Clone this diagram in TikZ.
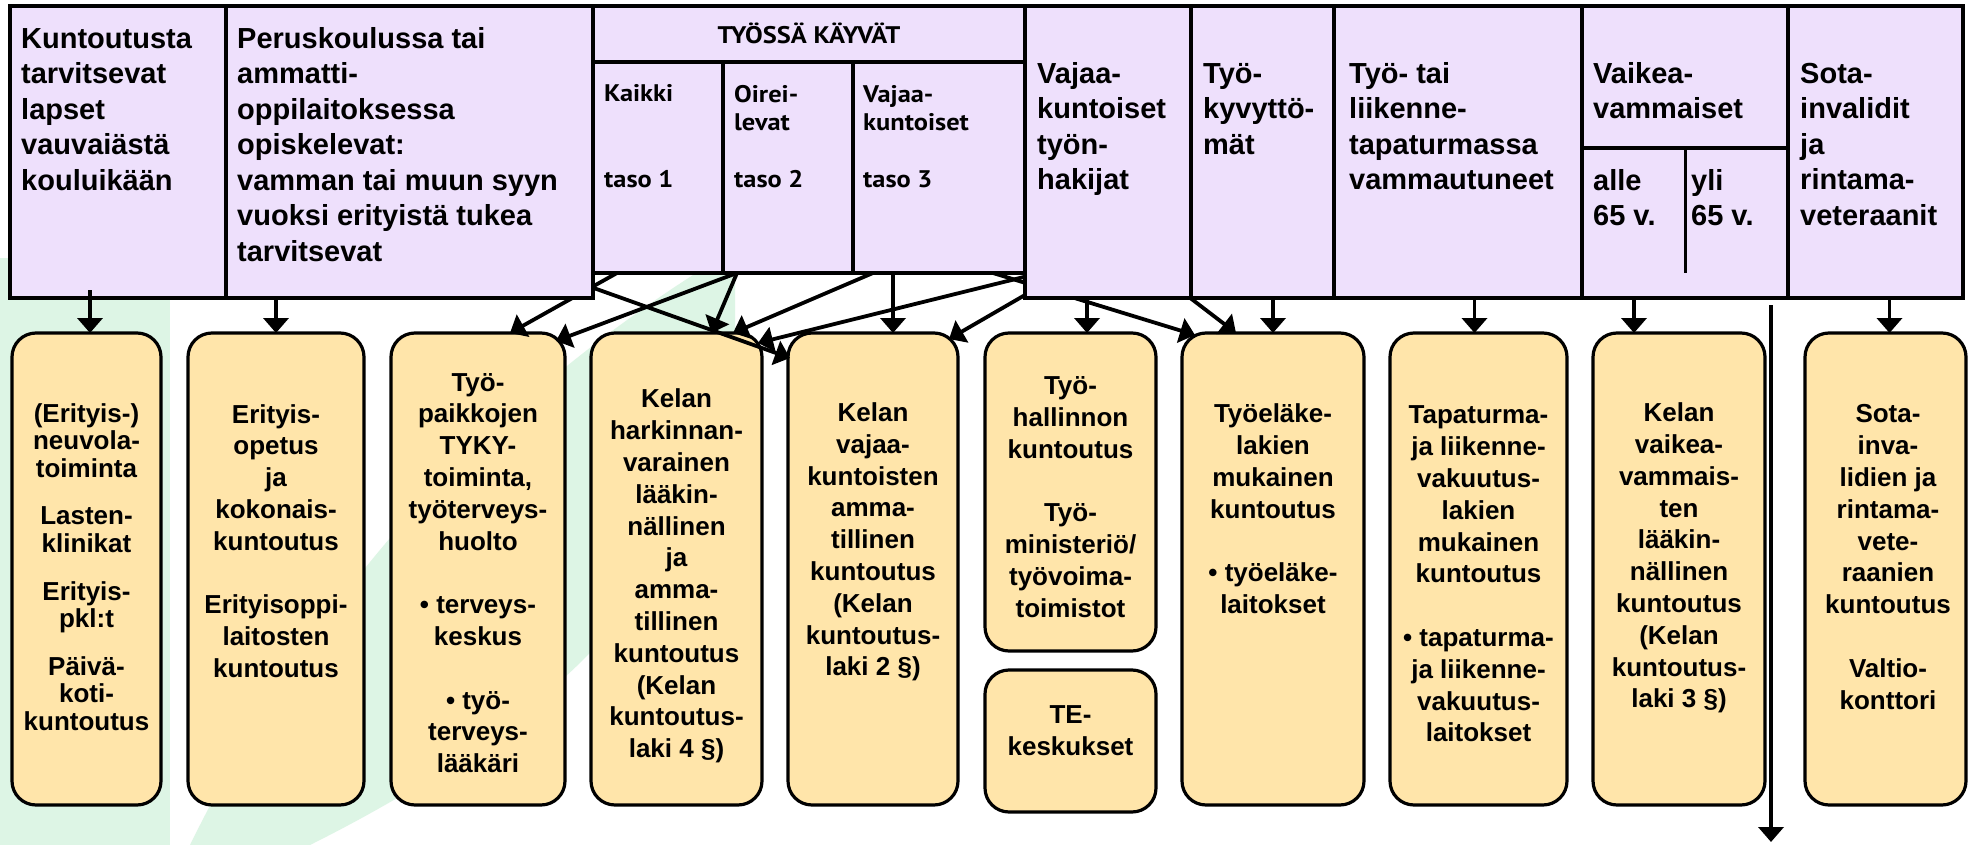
\documentclass[tikz,border=0pt]{standalone}
\usepackage{fontspec}
\setmainfont{Liberation Sans}
\newfontfamily\gillfont{PT Sans}[FakeStretch=1.1]
\usetikzlibrary{arrows.meta,calc}
\definecolor{lav}{RGB}{238,224,252}
\definecolor{org}{RGB}{255,229,170}
\definecolor{grn}{RGB}{221,245,229}
\pgfdeclarelayer{bg}\pgfdeclarelayer{mid}\pgfdeclarelayer{lines}
\pgfsetlayers{bg,mid,lines,main}
\begin{document}
\begin{tikzpicture}[x=1pt,y=-1pt,
  topbox/.style={draw, line width=3.5pt, fill=lav, inner sep=0pt, outer sep=0pt},
  cell/.style={inner sep=0pt, outer sep=0pt},
  botbox/.style={draw, line width=3.2pt, fill=org, rounded corners=24pt, inner sep=0pt, outer sep=0pt},
  toptext/.style={anchor=north west, align=left, inner sep=0pt, font=\bfseries\fontsize{29}{35.5}\selectfont},
  tkfont/.style={inner sep=0pt, font=\gillfont\bfseries\fontsize{24}{28}\selectfont},
  bottext/.style={align=center, inner sep=0pt, font=\bfseries\fontsize{26}{31.8}\selectfont},
  arr/.style={line width=3.8pt, -{Triangle[length=15pt,width=25pt]}}
]
\begin{pgfonlayer}{bg}
\fill[white] (0,0) rectangle (1971,845);
\fill[grn] (0,258) rectangle (170,845);
\fill[grn] (190,845) .. controls (330,560) and (520,380) .. (725,255) -- (735,255) -- (735,330) .. controls (730,560) and (560,720) .. (310,845) -- cycle;
\end{pgfonlayer}
\useasboundingbox (0,0) rectangle (1971,845);

% ---------- top row ----------
\node[topbox, minimum width=216pt, minimum height=292pt] (c1) at (118,152) {};
\node[topbox, minimum width=367pt, minimum height=292pt] (c2) at (409.5,152) {};
\node[topbox, minimum width=432pt, minimum height=56pt] (tkh) at (809,34) {};
\node[topbox, minimum width=130pt, minimum height=211pt] (tk1) at (658,167.5) {};
\node[topbox, minimum width=130pt, minimum height=211pt] (tk2) at (788,167.5) {};
\node[topbox, minimum width=172pt, minimum height=211pt] (tk3) at (939,167.5) {};
\node[topbox, minimum width=166pt, minimum height=292pt] (c4) at (1108,152) {};
\node[topbox, minimum width=143pt, minimum height=292pt] (c5) at (1262.5,152) {};
\node[topbox, minimum width=248pt, minimum height=292pt] (c6) at (1458,152) {};
\node[topbox, minimum width=206pt, minimum height=292pt] (c7) at (1685,152) {};
\node[topbox, minimum width=175pt, minimum height=292pt] (c8) at (1875.5,152) {};
\node[cell, minimum width=103pt, minimum height=150pt] (c7a) at (1633.5,223) {};
\node[cell, minimum width=103pt, minimum height=150pt] (c7b) at (1736.5,223) {};
\draw[line width=3.5pt] (c7a.north west) -- (c7b.north east);
\draw[line width=3pt] (c7a.north east) -- ($(c7a.south east)+(0,-25)$);

\node[toptext] (t1) at (21,26) {\rule{0pt}{22pt}Kuntoutusta\\tarvitsevat\\lapset\\vauvaiästä\\kouluikään};
\node[toptext] (t2) at (237,26) {\rule{0pt}{22pt}Peruskoulussa tai\\ammatti-\\oppilaitoksessa\\opiskelevat:\\vamman tai muun syyn\\vuoksi erityistä tukea\\tarvitsevat};
\node[tkfont, anchor=base] (th) at (809,43.3) {TYÖSSÄ KÄYVÄT};
\node[tkfont, anchor=base west] (tk1a) at (604,102) {Kaikki};
\node[tkfont, anchor=base west] (tk1b) at (604,188) {taso 1};
\node[tkfont, anchor=north west, align=left] (tk2a) at (734,84) {\rule{0pt}{18pt}Oirei-\\levat};
\node[tkfont, anchor=base west] (tk2b) at (734,188) {taso 2};
\node[tkfont, anchor=north west, align=left] (tk3a) at (863,84) {\rule{0pt}{18pt}Vajaa-\\kuntoiset};
\node[tkfont, anchor=base west] (tk3b) at (863,188) {taso 3};
\node[toptext] (t4) at (1037,61) {\rule{0pt}{22pt}Vajaa-\\kuntoiset\\työn-\\hakijat};
\node[toptext] (t5) at (1203,61) {\rule{0pt}{22pt}Työ-\\kyvyttö-\\mät};
\node[toptext] (t6) at (1349,61) {\rule{0pt}{22pt}Työ- tai\\liikenne-\\tapaturmassa\\vammautuneet};
\node[toptext] (t7) at (1593,61) {\rule{0pt}{22pt}Vaikea-\\vammaiset};
\node[toptext] (t7a) at (1593,168) {\rule{0pt}{22pt}alle\\65 v.};
\node[toptext] (t7b) at (1691,168) {\rule{0pt}{22pt}yli\\65 v.};
\node[toptext] (t8) at (1800,61) {\rule{0pt}{22pt}Sota-\\invalidit\\ja\\rintama-\\veteraanit};

% ---------- bottom row ----------
\begin{pgfonlayer}{mid}
\node[botbox, minimum width=149pt, minimum height=472pt] (b1) at (86.5,569) {};
\node[botbox, minimum width=176pt, minimum height=472pt] (b2) at (276,569) {};
\node[botbox, minimum width=174pt, minimum height=472pt] (b3) at (478,569) {};
\node[botbox, minimum width=171pt, minimum height=472pt] (b4) at (676.5,569) {};
\node[botbox, minimum width=170pt, minimum height=472pt] (b5) at (873,569) {};
\node[botbox, minimum width=171pt, minimum height=318pt] (b6) at (1070.5,492) {};
\node[botbox, minimum width=171pt, minimum height=142pt] (te) at (1070.5,741) {};
\node[botbox, minimum width=182pt, minimum height=472pt] (b7) at (1273,569) {};
\node[botbox, minimum width=177pt, minimum height=472pt] (b8) at (1478.5,569) {};
\node[botbox, minimum width=172pt, minimum height=472pt] (b9) at (1679,569) {};
\node[botbox, minimum width=161pt, minimum height=472pt] (b10) at (1885.5,569) {};

\node[bottext, font=\bfseries\fontsize{26}{27.6}\selectfont] (bt1) at (86.5,567) {(Erityis-)\\neuvola-\\toiminta\\[20pt]Lasten-\\klinikat\\[20pt]Erityis-\\pkl:t\\[20pt]Päivä-\\koti-\\kuntoutus};
\node[bottext] (bt2) at (276,541) {Erityis-\\opetus\\ja\\kokonais-\\kuntoutus\\[31.8pt]Erityisoppi-\\laitosten\\kuntoutus};
\node[bottext] (bt3) at (478,573) {Työ-\\paikkojen\\TYKY-\\toiminta,\\työterveys-\\huolto\\[31.8pt]• terveys-\\keskus\\[31.8pt]• työ-\\terveys-\\lääkäri};
\node[bottext] (bt4) at (676.5,576) {Kelan\\harkinnan-\\varainen\\lääkin-\\nällinen\\ja\\amma-\\tillinen\\kuntoutus\\(Kelan\\kuntoutus-\\laki 4 §)};
\node[bottext] (bt5) at (873,542) {Kelan\\vajaa-\\kuntoisten\\amma-\\tillinen\\kuntoutus\\(Kelan\\kuntoutus-\\laki 2 §)};
\node[bottext] (bt6) at (1070.5,497) {Työ-\\hallinnon\\kuntoutus\\[31.8pt]Työ-\\ministeriö/\\työvoima-\\toimistot};
\node[bottext] (bte) at (1070.5,731) {TE-\\keskukset};
\node[bottext] (bt7) at (1273,509) {Työeläke-\\lakien\\mukainen\\kuntoutus\\[31.8pt]• työeläke-\\laitokset};
\node[bottext] (bt8) at (1478.5,574) {Tapaturma-\\ja liikenne-\\vakuutus-\\lakien\\mukainen\\kuntoutus\\[31.8pt]• tapaturma-\\ja liikenne-\\vakuutus-\\laitokset};
\node[bottext] (bt9) at (1679,558) {Kelan\\vaikea-\\vammais-\\ten\\lääkin-\\nällinen\\kuntoutus\\(Kelan\\kuntoutus-\\laki 3 §)};
\node[bottext] (bt10) at (1888,557) {Sota-\\inva-\\lidien ja\\rintama-\\vete-\\raanien\\kuntoutus\\[31.8pt]Valtio-\\konttori};
\end{pgfonlayer}

% ---------- connectors ----------
\begin{pgfonlayer}{lines}
\draw[arr] (b2.north |- c2.south) -- (b2.north);
\draw[arr] ($(tk1.south west)+(24,0)$) -- ($(b3.north)+(32,0)$);
\draw[arr] ($(tk2.south west)+(14,0)$) -- ($(b3.north east)+(-9,8)$);
\draw[arr] ($(tk2.south west)+(14,0)$) -- ($(b4.north)+(35,0)$);
\draw[arr] ($(tk3.south west)+(20,0)$) -- ($(b4.north east)+(-29,0)$);
\draw[arr] ($(c4.south west)+(35,-30)$) -- ($(b4.north east)+(-4,10)$);
\draw[arr] ($(c2.south east)+(-33,-22)$) -- ($(b5.north west)+(2,25)$);
\draw[arr] ($(tk3.south west)+(40,0)$) -- ($(b5.north west)+(105,0)$);
\draw[arr] ($(c4.south west)+(0,-3)$) -- ($(b5.north east)+(-9,6)$);
\draw[arr] ($(c4.south west)+(62,0)$) -- ($(b6.north west)+(102,0)$);
\draw[arr] ($(tk3.south west)+(140,0)$) -- ($(b7.north west)+(13,2)$);
\draw[arr] ($(c4.south east)+(-40,-30)$) -- ($(b7.north west)+(54,0)$);
\draw[arr] (b7.north |- c5.south) -- (b7.north);
\draw[arr] ($(b8.north |- c6.south)+(-4,0)$) -- ($(b8.north)+(-4,0)$);
\draw[arr] ($(c7a.south west)+(52,0)$) -- ($(b9.north west)+(41,0)$);
\coordinate (yliS) at ($(c7b.south east)+(-17,7)$);
\coordinate (yliE) at ($(yliS)+(0,537)$);
\draw[arr] (yliS) -- (yliE);
\draw[arr] ($(b10.north |- c8.south)+(4,0)$) -- ($(b10.north)+(4,0)$);
\end{pgfonlayer}
\draw[arr] ($(b1.north |- c1.south)+(3.5,-8)$) -- ($(b1.north)+(3.5,0)$);
\end{tikzpicture}
\end{document}
